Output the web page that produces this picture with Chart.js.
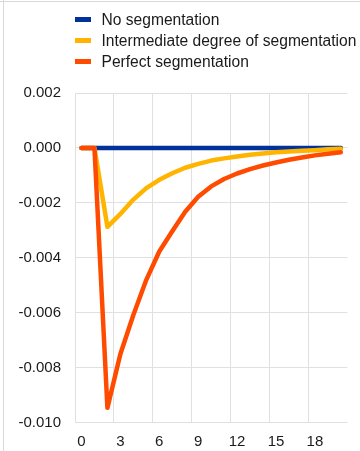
<!DOCTYPE html>
<html>
<head>
<meta charset="utf-8">
<script src="https://cdn.jsdelivr.net/npm/chart.js@4/dist/chart.umd.min.js"></script>
<style>
  html, body { margin: 0; padding: 0; background: #fff; }
  #wrap { position: relative; width: 360px; height: 451px; overflow: hidden; font-family: "Liberation Sans", Arial, sans-serif; }
  #frameTop { position: absolute; left: 0; top: 1px; width: 360px; height: 1px; background: #d9d9d9; }
  #frameLeft { position: absolute; left: 3px; top: 0; width: 1px; height: 451px; background: #d9d9d9; }
  #legend { position: absolute; left: 75px; top: 10px; }
  .item { height: 20.8px; line-height: 20.8px; font-size: 15.6px; color: #1a1a1a; white-space: nowrap; }
  .box { display: inline-block; width: 16px; height: 5px; vertical-align: middle; margin-right: 10.5px; position: relative; top: -1px; }
  canvas { position: absolute; left: 0; top: 0; }
</style>
</head>
<body>
<div id="wrap">
  <canvas id="c" width="360" height="451"></canvas>
  <div id="frameTop"></div>
  <div id="frameLeft"></div>
  <div id="legend"></div>
</div>
<script>
const periods = ["0","1","2","3","4","5","6","7","8","9","10","11","12","13","14","15","16","17","18","19","20"];
const seriesNames = ["No segmentation", "Intermediate degree of segmentation", "Perfect segmentation"];
const seriesColors = ["#003299", "#FFB400", "#FF4B00"];
const noSegmentation = [0,0,0,0,0,0,0,0,0,0,0,0,0,0,0,0,0,0,0,0,0];
const intermediateSegmentation = [0,0,-0.00287,-0.0024,-0.00188,-0.00146,-0.00116,-0.00092,-0.00072,-0.00058,-0.00046,-0.00038,-0.00031,-0.00025,-0.0002,-0.00016,-0.00013,-0.0001,-0.00008,-0.00005,-0.00003];
const perfectSegmentation = [0,0,-0.00946,-0.0075,-0.00608,-0.0048,-0.00377,-0.00303,-0.00232,-0.00178,-0.0014,-0.00113,-0.00093,-0.00077,-0.00064,-0.00053,-0.00043,-0.00035,-0.00027,-0.00021,-0.00016];
const yTicks = [0.002, 0, -0.002, -0.004, -0.006, -0.008, -0.010];

const seriesData = [noSegmentation, intermediateSegmentation, perfectSegmentation];

// HTML legend (real text)
const legendEl = document.getElementById('legend');
seriesNames.forEach((n, i) => {
  const d = document.createElement('div');
  d.className = 'item';
  const b = document.createElement('span');
  b.className = 'box';
  b.style.background = seriesColors[i];
  d.appendChild(b);
  d.appendChild(document.createTextNode(n));
  legendEl.appendChild(d);
});

const FONT = { family: '"Liberation Sans", Arial, sans-serif', size: 15 };
const GRID = '#e0e0e0';

new Chart(document.getElementById('c'), {
  type: 'line',
  data: {
    labels: periods,
    datasets: seriesData.map((d, i) => ({
      label: seriesNames[i],
      data: d,
      borderColor: seriesColors[i],
      backgroundColor: seriesColors[i],
      borderWidth: 4.5,
      pointRadius: 0,
      tension: 0,
      borderCapStyle: 'round',
      borderJoinStyle: 'round',
      fill: false,
      order: 3 - i
    }))
  },
  options: {
    responsive: false,
    animation: false,
    layout: { padding: { left: 0, right: 12.7, top: 93, bottom: 0 } },
    plugins: { legend: { display: false }, tooltip: { enabled: false } },
    scales: {
      x: {
        type: 'category',
        offset: true,
        grid: {
          offset: true,
          drawTicks: false,
          color: (ctx) => (ctx.index % 3 === 0 ? GRID : 'rgba(0,0,0,0)'),
          lineWidth: 1
        },
        border: { display: false },
        ticks: {
          autoSkip: false,
          maxRotation: 0,
          padding: 10,
          color: '#1a1a1a',
          font: FONT,
          callback: function (v, i) { return i % 3 === 0 ? this.getLabelForValue(v) : ''; }
        },
        afterFit: (s) => { s.height = 28.3; }
      },
      y: {
        min: -0.010,
        max: 0.002,
        grid: { color: GRID, drawTicks: false, lineWidth: 1 },
        border: { display: false },
        afterBuildTicks: (s) => { s.ticks = yTicks.map(v => ({ value: v })); },
        ticks: {
          padding: 14,
          color: '#1a1a1a',
          font: FONT,
          callback: (v) => v.toFixed(3)
        },
        afterFit: (s) => { s.width = 75; }
      }
    }
  }
});
</script>
</body>
</html>
